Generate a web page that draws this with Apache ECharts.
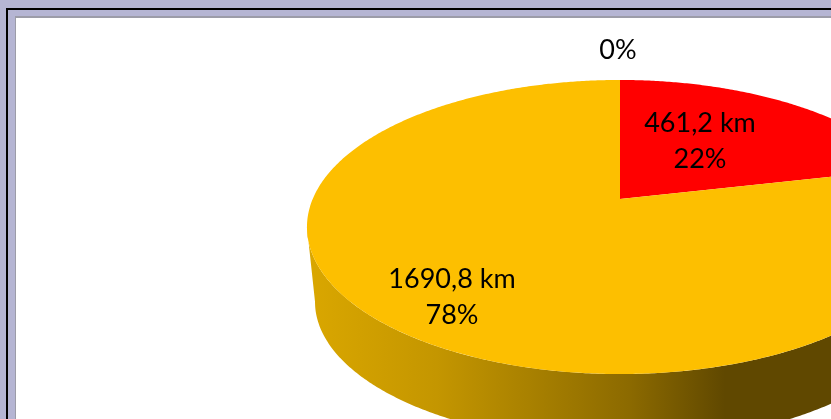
<!DOCTYPE html>
<html>
<head>
<meta charset="utf-8">
<style>html,body{margin:0;padding:0;background:#fff}#c{width:831px;height:419px}</style>
<script src="https://cdn.jsdelivr.net/npm/echarts@6/dist/echarts.min.js"></script>
</head>
<body>
<div id="c"></div>
<script>
// Data
const distances = [461.2, 1690.8, 0];
const percentLabels = ['22%', '78%', '0%'];
const sliceColors = ['#FF0000', '#FDBF00', '#7F7F7F'];

// Layout (kept apart from the data)
const labelAnchors = [[700, 141], [452, 297], [618, 50]];
const TOP_DISC = {cx: 620, y0: 199, R: 307.3, S: 141.7};
const BOTTOM_DISC = {cx: 620, y0: 275, R: 299.4, S: 135.9};
const TILT = 0.1905;

const total = distances.reduce((a, b) => a + b, 0);

function project(disc, angle, radius) {
  const u = Math.sin(angle) * radius, v = -Math.cos(angle) * radius;
  const w = 1 - TILT * v;
  return [disc.cx + disc.R * u / w, disc.y0 + disc.S * v / w];
}
function arc(disc, a, b) {
  const pts = [];
  const n = Math.max(1, Math.ceil(Math.abs(b - a) / (Math.PI / 360)));
  for (let i = 0; i <= n; i++) pts.push(project(disc, a + (b - a) * i / n, 1));
  return pts;
}
const FRONT_START = Math.acos(-TILT);
const FRONT_END = 2 * Math.PI - FRONT_START;
const wallGradient = {
  type: 'linear', x: 307, y: 0, x2: 725, y2: 0, global: true,
  colorStops: [
    {offset: 0, color: '#DAA700'},
    {offset: 0.31, color: '#C49600'},
    {offset: 0.53, color: '#A98100'},
    {offset: 0.77, color: '#8C6A00'},
    {offset: 1, color: '#604800'}
  ]
};

function renderSlice(params, api) {
  const i = params.dataIndex;
  let before = 0;
  for (let k = 0; k < i; k++) before += distances[k];
  const a = before / total * 2 * Math.PI;
  const b = (before + api.value(0)) / total * 2 * Math.PI;
  const children = [];
  const wa = Math.max(a, FRONT_START), wb = Math.min(b, FRONT_END);
  if (wb > wa) {
    children.push({
      type: 'polygon',
      shape: {points: arc(TOP_DISC, wa, wb).concat(arc(BOTTOM_DISC, wb, wa))},
      style: {fill: wallGradient}
    });
  }
  if (b > a) {
    children.push({
      type: 'polygon',
      shape: {points: [[TOP_DISC.cx, TOP_DISC.y0]].concat(arc(TOP_DISC, a, b))},
      style: {fill: sliceColors[i]}
    });
  }
  const v = api.value(0);
  const text = v > 0 ? v.toFixed(1).replace('.', ',') + ' km\n' + percentLabels[i] : percentLabels[i];
  children.push({
    type: 'text',
    z2: 10,
    style: {
      text: text, x: labelAnchors[i][0], y: labelAnchors[i][1],
      align: 'center', verticalAlign: 'middle',
      fontFamily: 'Lato', fontSize: 27, lineHeight: 36, fill: '#000'
    }
  });
  return {type: 'group', children: children};
}

const chart = echarts.init(document.getElementById('c'), null, {renderer: 'canvas'});
chart.setOption({
  animation: false,
  backgroundColor: '#FFFFFF',
  graphic: {
    z: 0,
    elements: [
      {type: 'rect', shape: {x: 0, y: 0, width: 831, height: 419}, style: {fill: '#B5B5D3'}, silent: true},
      {type: 'rect', shape: {x: 6, y: 8, width: 825, height: 411}, style: {fill: '#000000'}, silent: true},
      {type: 'rect', shape: {x: 8, y: 10, width: 823, height: 409}, style: {fill: '#B5B5D3'}, silent: true},
      {type: 'rect', shape: {x: 15, y: 16, width: 816, height: 403}, style: {fill: '#9C9CA8'}, silent: true},
      {type: 'rect', shape: {x: 16, y: 18, width: 815, height: 401}, style: {fill: '#FFFFFF'}, silent: true}
    ]
  },
  series: [{
    type: 'custom',
    coordinateSystem: 'none',
    silent: true,
    renderItem: renderSlice,
    data: distances.map(v => [v])
  }]
});
</script>
</body>
</html>
